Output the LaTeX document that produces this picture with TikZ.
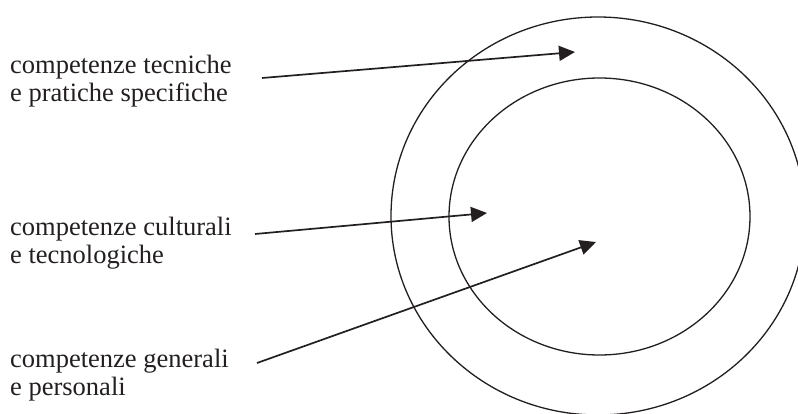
\documentclass[tikz,border=0pt]{standalone}
\usepackage{fontspec}
\setmainfont{Liberation Serif}
\usepackage{xcolor}
\definecolor{InkBlack}{RGB}{35,31,32}
\usetikzlibrary{positioning,arrows.meta}

\begin{document}
\begin{tikzpicture}[x=1pt, y=-1pt,
    lbl/.style={anchor=north west, inner sep=0pt, align=left, text=InkBlack,
              font=\fontsize{26.5}{28}\selectfont},
    ring/.style={draw=InkBlack, line width=1.3pt},
    a/.style={-{Triangle[length=16pt, width=15pt]}, draw=InkBlack, line width=1.7pt}
]
    \useasboundingbox (0,0) rectangle (798,414);
    % the two rings
    \draw[ring] (598,216) ellipse [x radius=207pt, y radius=199pt];
    \draw[ring] (599.5,216.5) ellipse [x radius=150.5pt, y radius=138.5pt];
    % labels
    \node[lbl] (tec) at (10,55) {competenze tecniche\\e pratiche specifiche};
    \node[lbl] (cul) at (10,217) {competenze culturali\\e tecnologiche};
    \node[lbl] (gen) at (10,349) {competenze generali\\e personali};
    % arrow ends
    \coordinate (tecS) at (262,78);
    \coordinate (tecE) at (575,52);
    \coordinate (culS) at (255,234);
    \coordinate (culE) at (487,213);
    \coordinate (genS) at (257,363);
    \coordinate (genE) at (596,242);
    \draw[a] (tecS) -- (tecE);
    \draw[a] (culS) -- (culE);
    \draw[a] (genS) -- (genE);
\end{tikzpicture}
\end{document}
